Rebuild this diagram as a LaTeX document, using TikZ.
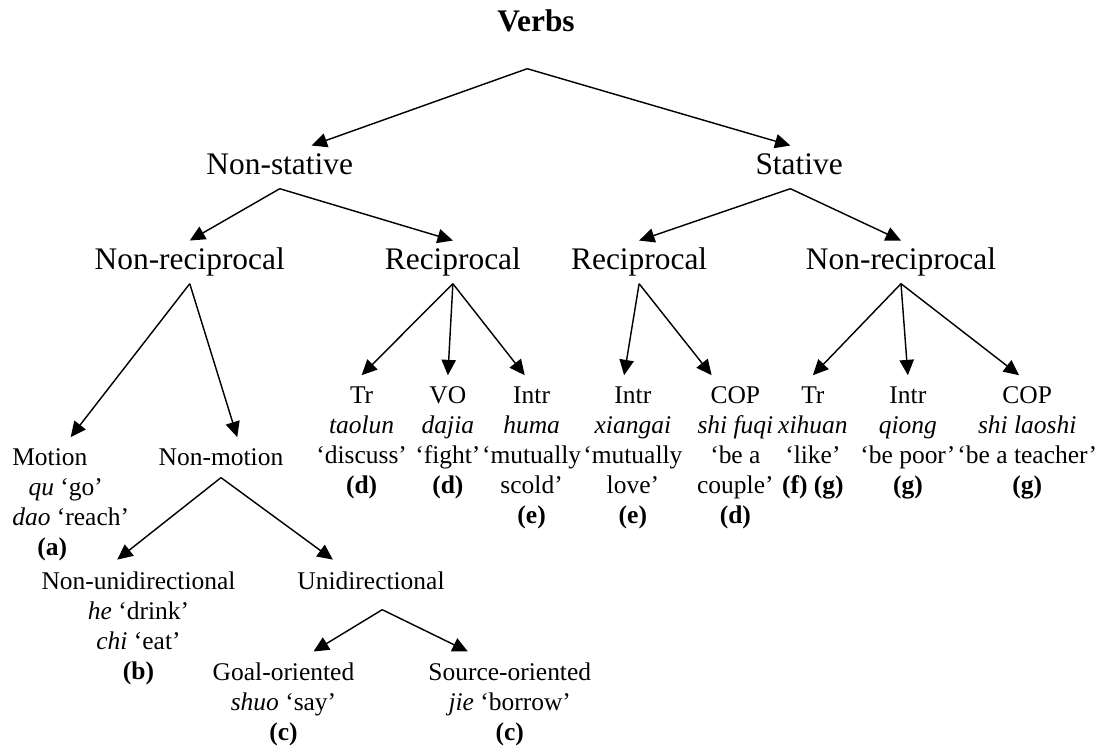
\documentclass[tikz,border=0pt]{standalone}
\usepackage{fontspec}
\setmainfont{Liberation Serif}
\usepackage{tikz}
\usetikzlibrary{arrows.meta, positioning}
\tikzstyle{title} = [rectangle, font=\fontsize{14.3}{16}\selectfont\bfseries, text height=10pt, text depth=16.4pt, inner sep=0pt]
\tikzstyle{category} = [rectangle, font=\fontsize{14.3}{16}\selectfont, text height=10pt, text depth=3pt, inner xsep=0pt, inner ysep=3pt]
\tikzstyle{leaf} = [rectangle, align=center, font=\fontsize{11.6}{13.66}\selectfont, inner xsep=0pt, inner ysep=5pt]

\begin{document}
\begin{tikzpicture}[node distance=2cm, line width=0.65pt]
\useasboundingbox (-8.576,0.624) rectangle (9.136,-11.36);
\node (verbs) [title] {Verbs};
\node (nonstat) [category, below of=verbs, xshift=-4.10cm, yshift=-0.05cm] {Non-stative};
\node (stat) [category, below of=verbs, xshift=4.21cm, yshift=-0.05cm] {Stative};
\node (nonrecL) [category, below of=nonstat, xshift=-1.44cm, yshift=0.48cm] {Non-reciprocal};
\node (recL) [category, below of=nonstat, xshift=2.77cm, yshift=0.48cm] {Reciprocal};
\node (recR) [category, below of=stat, xshift=-2.56cm, yshift=0.48cm] {Reciprocal};
\node (nonrecR) [category, below of=stat, xshift=1.63cm, yshift=0.48cm] {Non-reciprocal};

\node (tr1) [leaf, below of=recL, xshift=-1.46cm, yshift=0.19cm, anchor=north] {Tr\\\textit{taolun}\\`discuss'\\\textbf{(d)}};
\node (vo) [leaf, below of=recL, xshift=-0.08cm, yshift=0.19cm, anchor=north] {VO\\\textit{dajia}\\`fight'\\\textbf{(d)}};
\node (intr1) [leaf, below of=recL, xshift=1.26cm, yshift=0.19cm, anchor=north] {Intr\\\textit{huma}\\`mutually\\scold'\\\textbf{(e)}};
\node (intr2) [leaf, below of=recR, xshift=-0.10cm, yshift=0.19cm, anchor=north] {Intr\\\textit{xiangai}\\`mutually\\love'\\\textbf{(e)}};
\node (cop1) [leaf, below of=recR, xshift=1.54cm, yshift=0.19cm, anchor=north] {COP\\\textit{shi fuqi}\\`be a\\couple'\\\textbf{(d)}};
\node (tr2) [leaf, below of=nonrecR, xshift=-1.41cm, yshift=0.19cm, anchor=north] {Tr\\\textit{xihuan}\\`like'\\\textbf{(f) (g)}};
\node (intr3) [leaf, below of=nonrecR, xshift=0.11cm, yshift=0.19cm, anchor=north] {Intr\\\textit{qiong}\\`be poor'\\\textbf{(g)}};
\node (cop2) [leaf, below of=nonrecR, xshift=2.02cm, yshift=0.19cm, anchor=north] {COP\\\textit{shi laoshi}\\`be a teacher'\\\textbf{(g)}};

\node (motion) [leaf, below of=nonrecL, xshift=-2.85cm, yshift=-0.80cm, anchor=north west, align=left] {Motion\\\hspace*{0.26cm}\textit{qu} `go'\\\textit{dao} `reach'\\\hspace*{0.40cm}\textbf{(a)}};
\node (nonmotion) [leaf, below of=nonrecL, xshift=0.50cm, yshift=-0.80cm, anchor=north] {Non-motion};
\node (nonuni) [leaf, below of=nonrecL, xshift=-0.82cm, yshift=-2.76cm, anchor=north] {Non-unidirectional\\\textit{he} `drink'\\\textit{chi} `eat'\\\textbf{(b)}};
\node (uni) [leaf, below of=nonrecL, xshift=2.90cm, yshift=-2.76cm, anchor=north] {Unidirectional};
\node (goal) [leaf, below of=nonrecL, xshift=1.50cm, yshift=-4.23cm, anchor=north] {Goal-oriented\\\textit{shuo} `say'\\\textbf{(c)}};
\node (source) [leaf, below of=nonrecL, xshift=5.12cm, yshift=-4.23cm, anchor=north] {Source-oriented\\\textit{jie} `borrow'\\\textbf{(c)}};

\draw[-{Triangle[length=7pt, width=6.5pt]}] ([xshift=-0.14cm]verbs.south) -- ([xshift=0.51cm]nonstat.north);
\draw[-{Triangle[length=7pt, width=6.5pt]}] ([xshift=-0.14cm]verbs.south) -- ([xshift=-0.14cm]stat.north);
\draw[-{Triangle[length=7pt, width=6.5pt]}] (nonstat.south) -- (nonrecL.north);
\draw[-{Triangle[length=7pt, width=6.5pt]}] (nonstat.south) -- (recL.north);
\draw[-{Triangle[length=7pt, width=6.5pt]}] ([xshift=-0.14cm]stat.south) -- (recR.north);
\draw[-{Triangle[length=7pt, width=6.5pt]}] ([xshift=-0.14cm]stat.south) -- (nonrecR.north);
\draw[-{Triangle[length=7pt, width=6.5pt]}] (recL.south) -- (tr1.north);
\draw[-{Triangle[length=7pt, width=6.5pt]}] (recL.south) -- (vo.north);
\draw[-{Triangle[length=7pt, width=6.5pt]}] (recL.south) -- ([xshift=-0.11cm]intr1.north);
\draw[-{Triangle[length=7pt, width=6.5pt]}] (recR.south) -- ([xshift=-0.14cm]intr2.north);
\draw[-{Triangle[length=7pt, width=6.5pt]}] (recR.south) -- ([xshift=-0.38cm]cop1.north);
\draw[-{Triangle[length=7pt, width=6.5pt]}] (nonrecR.south) -- (tr2.north);
\draw[-{Triangle[length=7pt, width=6.5pt]}] (nonrecR.south) -- (intr3.north);
\draw[-{Triangle[length=7pt, width=6.5pt]}] (nonrecR.south) -- ([xshift=-0.13cm]cop2.north);
\draw[-{Triangle[length=7pt, width=6.5pt]}] (nonrecL.south) -- (motion.north);
\draw[-{Triangle[length=7pt, width=6.5pt]}] (nonrecL.south) -- ([xshift=0.26cm]nonmotion.north);
\draw[-{Triangle[length=7pt, width=6.5pt]}] (nonmotion.south) -- ([xshift=-0.34cm]nonuni.north);
\draw[-{Triangle[length=7pt, width=6.5pt]}] (nonmotion.south) -- ([xshift=-0.61cm]uni.north);
\draw[-{Triangle[length=7pt, width=6.5pt]}] ([shift={(0.18cm,-0.14cm)}]uni.south) -- ([xshift=0.48cm]goal.north);
\draw[-{Triangle[length=7pt, width=6.5pt]}] ([shift={(0.18cm,-0.14cm)}]uni.south) -- ([xshift=-0.67cm]source.north);
\end{tikzpicture}
\end{document}
